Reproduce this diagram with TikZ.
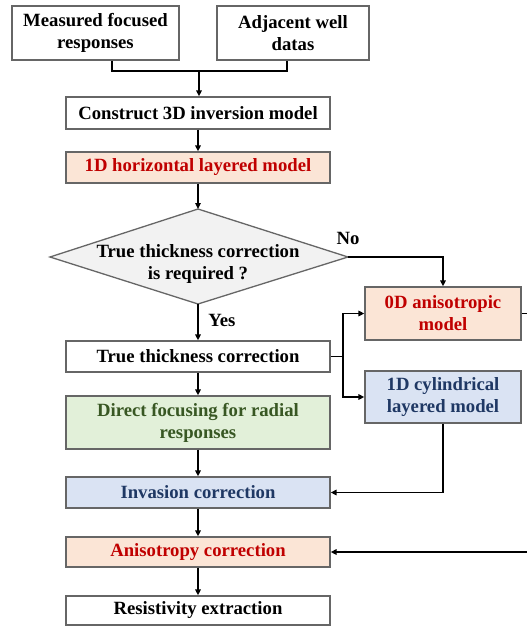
\documentclass[tikz,border=0pt]{standalone}
\usepackage{fontspec}
\setmainfont{Liberation Serif}
\usetikzlibrary{arrows.meta}
\definecolor{orfill}{HTML}{FBE5D6}
\definecolor{ortext}{HTML}{C00000}
\definecolor{blfill}{HTML}{DAE3F3}
\definecolor{bltext}{HTML}{1F3864}
\definecolor{grfill}{HTML}{E2F0D9}
\definecolor{grtext}{HTML}{385723}
\definecolor{dmfill}{HTML}{F2F2F2}
\definecolor{bord}{HTML}{666666}
\begin{document}
\begin{tikzpicture}[x=1pt,y=-1pt,
  box/.style={draw=bord, line width=1.3pt, rectangle, inner sep=0pt, align=center,
    font=\fontsize{18.7}{22}\selectfont\bfseries},
  conn/.style={line width=1.9pt, black},
  arr/.style={conn, -{Triangle[length=6pt,width=5.5pt]}},
  lbl/.style={font=\fontsize{18.7}{22}\selectfont\bfseries, inner sep=0pt}]
\useasboundingbox (0,0) rectangle (527,626);

\node[box, minimum width=167pt, minimum height=54pt] (meas) at (95.5,33) {Measured focused\\responses};
\node[box, minimum width=152pt, minimum height=54pt] (adj) at (293,33) {Adjacent well\\datas};
\node[box, minimum width=264pt, minimum height=32pt] (cons) at (198,113) {Construct 3D inversion model};
\node[box, fill=orfill, text=ortext, minimum width=264pt, minimum height=31pt] (hor) at (198,167.5) {1D horizontal layered model};

\path[draw=bord, line width=1.3pt, fill=dmfill] (50,257) coordinate (diaL) -- (198,209) coordinate (diaT)
  -- (348,257) coordinate (diaR) -- (198,304) coordinate (diaB) -- cycle;
\node[lbl, align=center] (dia) at (198,264) {True thickness correction\\is required ?};

\node[box, fill=orfill, text=ortext, minimum width=156pt, minimum height=53pt] (zd) at (443,313.5) {0D anisotropic\\model};
\node[box, fill=blfill, text=bltext, minimum width=156pt, minimum height=52pt] (cyl) at (443,397) {1D cylindrical\\layered model};

\node[box, minimum width=264pt, minimum height=31pt] (ttc) at (198,356.5) {True thickness correction};
\node[box, fill=grfill, text=grtext, minimum width=264pt, minimum height=53pt] (dir) at (198,422.5) {Direct focusing for radial\\responses};
\node[box, fill=blfill, text=bltext, minimum width=264pt, minimum height=31pt] (inv) at (198,492.5) {Invasion correction};
\node[box, fill=orfill, text=ortext, minimum width=264pt, minimum height=30pt] (ani) at (198,552) {Anisotropy correction};
\node[box, minimum width=264pt, minimum height=29pt] (res) at (198,610.5) {Resistivity extraction};

\node[lbl] (no) at (348,238) {No};
\node[lbl] (yes) at (222,320) {Yes};

\coordinate (j1) at (199,71);
\draw[conn] (meas.south -| 112,0) |- (j1) -| (adj.south -| 287,0);
\draw[arr] (j1) -- (cons.north -| j1);
\draw[arr] (cons) -- (hor);
\draw[arr] (hor) -- (diaT);
\draw[arr] (diaR) -| (zd.north);
\draw[arr] (diaB) -- (ttc.north);
\coordinate (br) at (343,356.5);
\draw[conn] (ttc.east) -- (br);
\draw[arr] (br) |- (zd.west);
\draw[arr] (br) |- (cyl.west);
\draw[arr] (ttc) -- (dir);
\draw[arr] (dir) -- (inv);
\draw[arr] (cyl.south) |- (inv.east);
\draw[arr] (inv) -- (ani);
\draw[arr] (ani) -- (res);
\coordinate (far) at (545,313.5);
\draw[arr] (zd.east) -- (far) |- (ani.east);
\end{tikzpicture}
\end{document}
